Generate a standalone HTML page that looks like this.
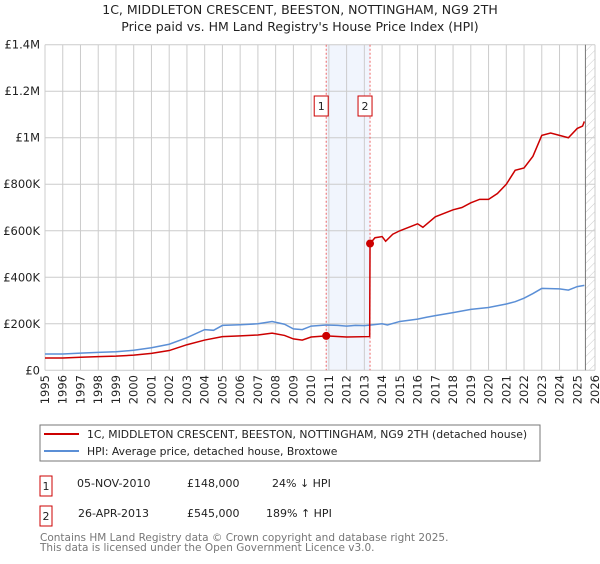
<!DOCTYPE html>
<html><head><meta charset="utf-8"><style>
body{margin:0;background:#fff;font-family:"DejaVu Sans","Liberation Sans",sans-serif;}
svg text{font-family:"DejaVu Sans","Liberation Sans",sans-serif;}
</style></head><body>
<svg id="c" width="600" height="560" xmlns="http://www.w3.org/2000/svg">
<defs><pattern id="hatch" width="6" height="6" patternUnits="userSpaceOnUse" patternTransform="rotate(45)"><line x1="0" y1="0" x2="0" y2="6" stroke="#ccc" stroke-width="1"/></pattern></defs>
<text x="300" y="14" text-anchor="middle" font-size="12.5" fill="#222">1C, MIDDLETON CRESCENT, BEESTON, NOTTINGHAM, NG9 2TH</text>
<text x="300" y="31" text-anchor="middle" font-size="12.5" fill="#222">Price paid vs. HM Land Registry's House Price Index (HPI)</text>
<g id="plot"></g>
<rect x="40" y="425" width="500" height="36" fill="#fff" stroke="#777"/>
<line x1="44" y1="434" x2="79" y2="434" stroke="#cc0000" stroke-width="2"/>
<text x="87" y="438" font-size="10.8" fill="#222">1C, MIDDLETON CRESCENT, BEESTON, NOTTINGHAM, NG9 2TH (detached house)</text>
<line x1="44" y1="451" x2="79" y2="451" stroke="#5b8fd6" stroke-width="2"/>
<text x="87" y="455" font-size="10.8" fill="#222">HPI: Average price, detached house, Broxtowe</text>
<g font-size="11" fill="#222">
<rect x="40" y="476" width="12" height="20" fill="#fff" stroke="#cc0000"/>
<text x="46" y="490" text-anchor="middle">1</text>
<text x="77" y="487">05-NOV-2010</text>
<text x="187" y="487">£148,000</text>
<text x="272" y="487">24% ↓ HPI</text>
<rect x="40" y="506" width="12" height="20" fill="#fff" stroke="#cc0000"/>
<text x="46" y="520" text-anchor="middle">2</text>
<text x="78" y="517">26-APR-2013</text>
<text x="187" y="517">£545,000</text>
<text x="266" y="517">189% ↑ HPI</text>
</g>
<text x="40" y="541" font-size="10.5" fill="#777">Contains HM Land Registry data © Crown copyright and database right 2025.</text>
<text x="40" y="551" font-size="10.5" fill="#777">This data is licensed under the Open Government Licence v3.0.</text>
</svg>
<script>
const hpiYears=[1995,1996,1997,1998,1999,2000,2001,2002,2003,2004,2004.5,2005,2006,2007,2007.8,2008.5,2009,2009.5,2010,2010.85,2011.5,2012,2012.5,2013,2013.5,2014,2014.3,2015,2016,2016.5,2017,2018,2019,2020,2021,2021.5,2022,2022.5,2023,2024,2024.5,2025,2025.4];
const hpiValues=[70,70,74,77,80,86,97,112,140,175,172,193,196,200,210,198,178,175,190,195,193,190,193,192,196,200,195,210,220,228,235,248,262,270,285,295,310,330,352,350,345,360,365];
const redYears=[1995,1996,1997,1998,1999,2000,2001,2002,2003,2004,2005,2006,2007,2007.8,2008.5,2009,2009.5,2010,2010.85,2012,2013.3,2013.32,2013.6,2014,2014.2,2014.6,2015,2016,2016.3,2017,2018,2018.5,2019,2019.5,2020,2020.5,2021,2021.5,2022,2022.5,2023,2023.5,2024,2024.5,2025,2025.3,2025.4];
const redValues=[53,53,56,59,61,65,73,85,110,130,145,148,152,160,150,135,130,143,148,143,145,545,570,575,555,585,600,630,615,660,690,700,720,735,735,760,800,860,870,920,1010,1020,1010,1000,1040,1050,1070];
const saleYears=[2010.85,2013.32];
const saleValues=[148,545];
const yTicks=[0,200,400,600,800,1000,1200,1400];
const yTickLabels=["£0","£200K","£400K","£600K","£800K","£1M","£1.2M","£1.4M"];
const xTicks=[];for(let y=1995;y<=2026;y++)xTicks.push(y);

const X0=45,X1=595,Y0=370.3,Y1=44.7;
const xs=y=>X0+(y-1995)/(2026-1995)*(X1-X0);
const ys=v=>Y0-v/1400*(Y0-Y1);
const g=document.getElementById('plot');
const NS='http://www.w3.org/2000/svg';
function mk(t,a){const e=document.createElementNS(NS,t);for(const k in a)e.setAttribute(k,a[k]);g.appendChild(e);return e;}
let e=mk('rect',{x:xs(saleYears[0]),y:Y1,width:xs(saleYears[1])-xs(saleYears[0]),height:Y0-Y1,fill:'#eef3fd',opacity:0.8});


e=mk('rect',{x:xs(2025.46),y:Y1,width:X1-xs(2025.46),height:Y0-Y1,fill:'url(#hatch)'});


yTicks.forEach((v,i)=>{
  let l=mk('line',{x1:X0,x2:X1,y1:ys(v),y2:ys(v),stroke:'#ccc','stroke-width':1});
  
  
  let t=mk('text',{x:40,y:ys(v)+4,'text-anchor':'end','font-size':11.5,fill:'#222'});
  t.textContent=yTickLabels[i];
  
  
});
xTicks.forEach(y=>{
  let l=mk('line',{x1:xs(y),x2:xs(y),y1:Y1,y2:Y0,stroke:'#ccc','stroke-width':1});
  
  
  let t=mk('text',{x:0,y:0,'text-anchor':'end','font-size':11.5,fill:'#222',transform:`translate(${xs(y)+4},375) rotate(-90)`});
  t.textContent=y;
  
  
});
e=mk('line',{x1:xs(2025.46),x2:xs(2025.46),y1:Y1,y2:Y0,stroke:'#777','stroke-width':1});


saleYears.forEach((y,i)=>{
  let l=mk('line',{x1:xs(y),x2:xs(y),y1:Y1,y2:Y0,stroke:'#e66','stroke-width':1,'stroke-dasharray':'2,2'});
  
  
  let r=mk('rect',{x:xs(y)-12,y:96,width:14,height:20,fill:'#fff',stroke:'#cc0000'});
  
  
  let t=mk('text',{x:xs(y)-5,y:110,'text-anchor':'middle','font-size':11,fill:'#222'});
  t.textContent=String(i+1);
  
  
});
e=mk('polyline',{points:hpiYears.map((y,i)=>xs(y)+','+ys(hpiValues[i])).join(' '),fill:'none',stroke:'#5b8fd6','stroke-width':1.5});


e=mk('polyline',{points:redYears.map((y,i)=>xs(y)+','+ys(redValues[i])).join(' '),fill:'none',stroke:'#cc0000','stroke-width':1.5});


saleYears.forEach((y,i)=>{
  let c=mk('circle',{cx:xs(y),cy:ys(saleValues[i]),r:4,fill:'#cc0000'});
  
  
});
</script>
</body></html>
